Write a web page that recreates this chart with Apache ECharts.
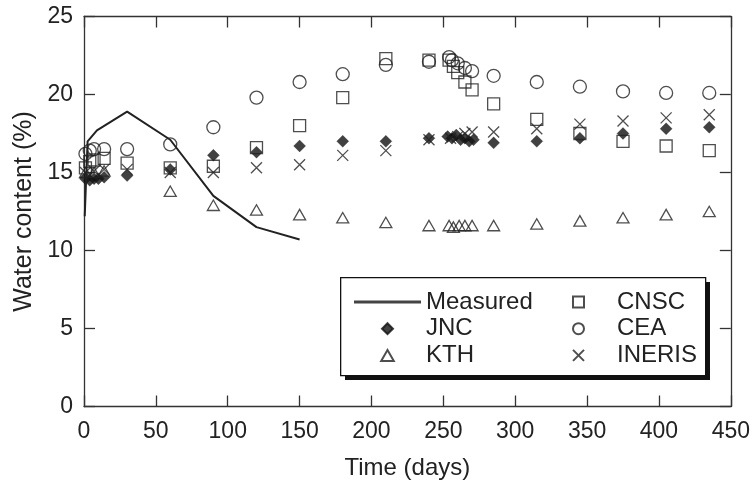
<!DOCTYPE html>
<html>
<head>
<meta charset="utf-8">
<script src="https://cdn.jsdelivr.net/npm/echarts@6/dist/echarts.min.js"></script>
<style>html,body{margin:0;padding:0;background:#fff}#c{width:753px;height:486px}</style>
</head>
<body>
<div id="c"></div>
<script>
// ---- data (time in days, water content in %) ----
const xTicks = [0, 50, 100, 150, 200, 250, 300, 350, 400, 450];
const yTicks = [0, 5, 10, 15, 20, 25];
const measured = [[0.5,12.2],[2.5,17.0],[9,17.7],[30,18.9],[60,17.1],[90,13.5],[120,11.5],[150,10.7]];
const jnc = [[1,14.6],[4,14.5],[7,14.6],[10,14.6],[14,14.7],[30,14.8],[60,15.2],[90,16.1],[120,16.3],[150,16.7],[180,17.0],[210,17.0],[240,17.2],[253,17.3],[256,17.2],[259,17.4],[262,17.1],[265,17.2],[268,17.0],[271,17.1],[285,16.9],[315,17.0],[345,17.2],[375,17.5],[405,17.8],[435,17.9]];
const kth = [[1,15.0],[7,15.0],[14,15.1],[60,13.8],[90,12.9],[120,12.6],[150,12.3],[180,12.1],[210,11.8],[240,11.6],[254,11.6],[257,11.5],[261,11.6],[265,11.6],[270,11.6],[285,11.6],[315,11.7],[345,11.9],[375,12.1],[405,12.3],[435,12.5]];
const cnsc = [[1,15.3],[4,15.7],[7,15.8],[14,15.9],[30,15.6],[60,15.3],[90,15.4],[120,16.6],[150,18.0],[180,19.8],[210,22.3],[240,22.2],[254,22.2],[257,21.8],[260,21.4],[265,20.8],[270,20.3],[285,19.4],[315,18.4],[345,17.5],[375,17.0],[405,16.7],[435,16.4]];
const cea = [[1,16.2],[4,16.4],[7,16.5],[14,16.5],[30,16.5],[60,16.8],[90,17.9],[120,19.8],[150,20.8],[180,21.3],[210,21.9],[240,22.1],[254,22.4],[256,22.2],[260,22.0],[265,21.7],[270,21.5],[285,21.2],[315,20.8],[345,20.5],[375,20.2],[405,20.1],[435,20.1]];
const ineris = [[1,15.0],[7,15.1],[14,15.2],[30,15.2],[60,15.0],[90,15.0],[120,15.3],[150,15.5],[180,16.1],[210,16.4],[240,17.1],[255,17.2],[260,17.3],[265,17.5],[270,17.6],[285,17.6],[315,17.8],[345,18.1],[375,18.3],[405,18.5],[435,18.7]];

const FONT = "'Liberation Sans', Arial, sans-serif";
const INK = '#222';
const chart = echarts.init(document.getElementById('c'), null, {renderer: 'canvas'});

const axisLine = {show: true, onZero: false, lineStyle: {color: '#333', width: 1.3}};
const axisTick = {show: true, inside: true, length: 11, lineStyle: {color: '#333', width: 1.3}};
const xBase = {type: 'value', min: xTicks[0], max: xTicks[xTicks.length-1], interval: xTicks[1]-xTicks[0], splitLine: {show: false}, axisLine, axisTick};
const yBase = {type: 'value', min: yTicks[0], max: yTicks[yTicks.length-1], interval: yTicks[1]-yTicks[0], splitLine: {show: false}, axisLine, axisTick};
const hollow = {color: 'rgba(0,0,0,0)', borderColor: INK, borderWidth: 1.3};
const X_PATH = 'path://M0,0L10,10M10,0L0,10';
const DIAMOND_PATH = 'path://M5,0L10,5L5,10L0,5Z';
const SQUARE_PATH = 'path://M0,0L10,0L10,10L0,10Z';
const TRIANGLE_PATH = 'path://M5,0L10,8.7L0,8.7Z';
const LINE_ICON = 'path://M0,0L67,0L67,3L0,3Z';

chart.setOption({
  animation: false,
  backgroundColor: '#fff',
  textStyle: {fontFamily: FONT},
  grid: {left: 84, right: 22, top: 16.5, bottom: 79.5},
  xAxis: [
    Object.assign({}, xBase, {position: 'bottom', name: 'Time (days)', nameLocation: 'middle', nameGap: 50,
      nameTextStyle: {fontSize: 24, color: INK, fontFamily: FONT},
      axisLabel: {fontSize: 23, color: INK, margin: 14, fontFamily: FONT}}),
    Object.assign({}, xBase, {position: 'top', axisLabel: {show: false}})
  ],
  yAxis: [
    Object.assign({}, yBase, {position: 'left', name: 'Water content (%)', nameLocation: 'middle', nameGap: 43,
      nameTextStyle: {fontSize: 25, color: INK, fontFamily: FONT},
      axisLabel: {fontSize: 23, color: INK, margin: 11, fontFamily: FONT}}),
    Object.assign({}, yBase, {position: 'right', axisLabel: {show: false}})
  ],
  graphic: [
    {type: 'rect', z: 3, left: 345, top: 282, shape: {width: 365, height: 98}, style: {fill: '#111'}},
    {type: 'rect', z: 3, left: 340, top: 277, shape: {width: 365, height: 98}, style: {fill: '#fff', stroke: '#111', lineWidth: 1.3}}
  ],
  legend: [
    {id: 'lg1', z: 10, orient: 'vertical', left: 354, top: 290, padding: 0, itemGap: 2.7, itemWidth: 67, itemHeight: 11,
     symbolKeepAspect: true,
     data: [{name: 'Measured', icon: LINE_ICON, itemStyle: {color: '#444'}}, 'JNC', 'KTH'],
     textStyle: {fontSize: 24, color: INK, fontFamily: FONT}, selectedMode: false},
    {id: 'lg2', z: 10, orient: 'vertical', left: 572, top: 290, padding: 0, itemGap: 2.7, itemWidth: 67, itemHeight: 11,
     symbolKeepAspect: true,
     data: ['CNSC', 'CEA', 'INERIS'], textStyle: {fontSize: 24, color: INK, fontFamily: FONT}, selectedMode: false}
  ],
  series: [
    {name: 'Measured', type: 'line', data: measured, symbol: 'none', lineStyle: {color: INK, width: 2}, itemStyle: {color: INK}, z: 3},
    {name: 'JNC', type: 'scatter', data: jnc, symbol: DIAMOND_PATH, symbolSize: 12, itemStyle: {color: '#111', borderColor: '#111', borderWidth: 0.3}},
    {name: 'KTH', type: 'scatter', data: kth, symbol: TRIANGLE_PATH, symbolSize: 12, symbolKeepAspect: true, itemStyle: hollow},
    {name: 'CNSC', type: 'scatter', data: cnsc, symbol: SQUARE_PATH, symbolSize: 12, itemStyle: hollow},
    {name: 'CEA', type: 'scatter', data: cea, symbol: 'circle', symbolSize: 13, itemStyle: hollow},
    {name: 'INERIS', type: 'scatter', data: ineris, symbol: X_PATH, symbolSize: 11, itemStyle: hollow}
  ]
});
</script>
</body>
</html>
